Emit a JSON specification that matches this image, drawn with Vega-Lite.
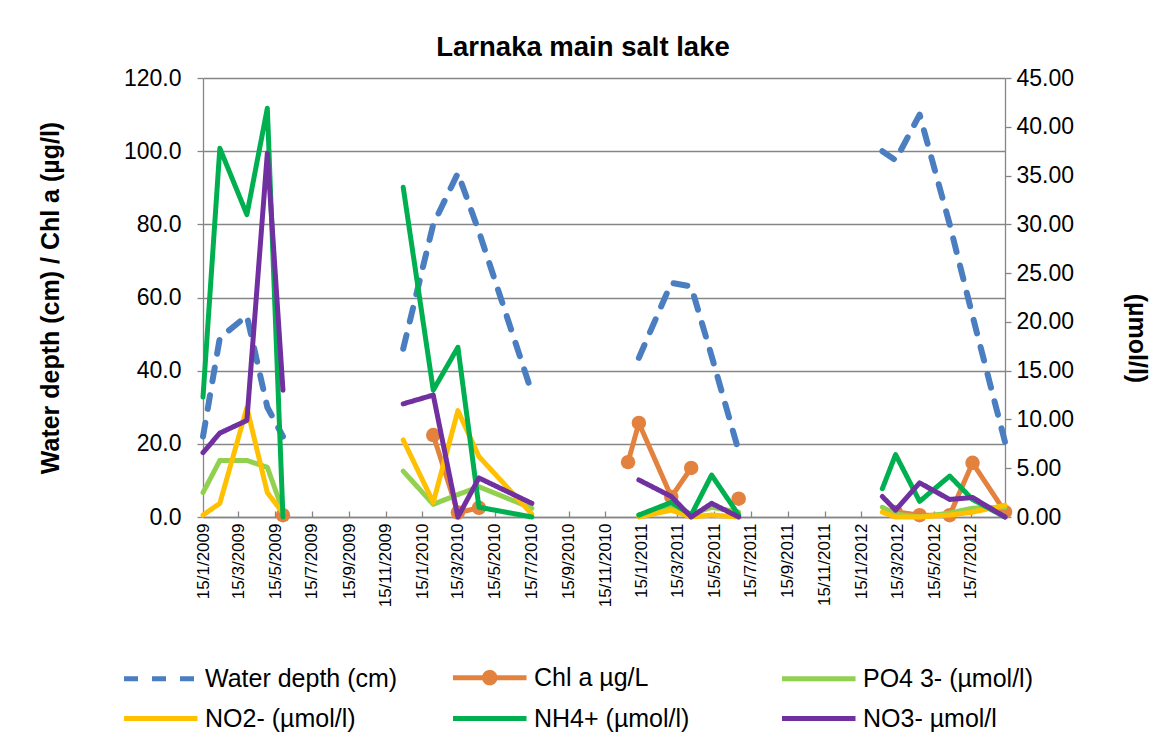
{
  "$schema": "https://vega.github.io/schema/vega-lite/v6.json",
  "width": 802,
  "height": 439,
  "autosize": {"type": "none"},
  "padding": {"left": 203, "top": 78, "right": 151, "bottom": 220},
  "background": "white",
  "config": {"view": {"stroke": null}, "font": "Liberation Sans"},
  "title": {"text": "Larnaka main salt lake", "fontSize": 27.5, "fontWeight": "bold", "font": "Liberation Sans", "color": "#000000", "anchor": "middle", "offset": 6, "dx": -21},
  "data": {"values": [
    {"date": "2009-01-15", "seg": "p1", "wd": 22, "chl": null, "po4": 2.5, "no2": 0.2, "nh4": 12.3, "no3": 6.6},
    {"date": "2009-02-12", "seg": "p1", "wd": 49, "chl": null, "po4": 5.8, "no2": 1.4, "nh4": 37.8, "no3": 8.6},
    {"date": "2009-03-29", "seg": "p1", "wd": 55, "chl": null, "po4": 5.8, "no2": 11.2, "nh4": 31.0, "no3": 9.9},
    {"date": "2009-05-02", "seg": "p1", "wd": 30, "chl": null, "po4": 5.1, "no2": 2.5, "nh4": 41.9, "no3": 37.3},
    {"date": "2009-05-28", "seg": "p1", "wd": 22, "chl": 0.5, "po4": 0.6, "no2": 0.4, "nh4": 0, "no3": 13.0},
    {"date": "2009-12-14", "seg": "p2", "wd": 46, "chl": null, "po4": 4.7, "no2": 7.9, "nh4": 33.8, "no3": 11.6},
    {"date": "2010-02-02", "seg": "p2", "wd": 80, "chl": 22.4, "po4": 1.3, "no2": 1.5, "nh4": 13.0, "no3": 12.5},
    {"date": "2010-03-15", "seg": "p2", "wd": 94, "chl": 1.2, "po4": 2.3, "no2": 10.9, "nh4": 17.4, "no3": 0},
    {"date": "2010-04-19", "seg": "p2", "wd": 78, "chl": 2.5, "po4": 3.1, "no2": 6.2, "nh4": 1.0, "no3": 4.0},
    {"date": "2010-07-16", "seg": "p2", "wd": 34, "chl": null, "po4": 0.9, "no2": 0.3, "nh4": 0, "no3": 1.4},
    {"date": "2010-12-23", "seg": "p3", "wd": null, "chl": 15.0, "po4": null, "no2": null, "nh4": null, "no3": null},
    {"date": "2011-01-10", "seg": "p3", "wd": 43.5, "chl": 25.7, "po4": 0.2, "no2": 0, "nh4": 0.2, "no3": 3.8},
    {"date": "2011-03-05", "seg": "p3", "wd": 64, "chl": 5.5, "po4": 1.0, "no2": 0.7, "nh4": 1.5, "no3": 2.1},
    {"date": "2011-04-07", "seg": "p3", "wd": 63, "chl": 13.4, "po4": 0.3, "no2": 0, "nh4": 0.2, "no3": 0},
    {"date": "2011-05-11", "seg": "p3", "wd": 44, "chl": null, "po4": 1.0, "no2": 0.2, "nh4": 4.3, "no3": 1.4},
    {"date": "2011-06-25", "seg": "p3", "wd": 18, "chl": 5.0, "po4": 0.5, "no2": 0, "nh4": 0.2, "no3": 0},
    {"date": "2012-02-19", "seg": "p4", "wd": 100, "chl": null, "po4": 1.0, "no2": 0.5, "nh4": 2.9, "no3": 2.1},
    {"date": "2012-03-12", "seg": "p4", "wd": 97.5, "chl": 1.4, "po4": 0.3, "no2": 0, "nh4": 6.4, "no3": 0.7},
    {"date": "2012-04-21", "seg": "p4", "wd": 110, "chl": 0.5, "po4": 0, "no2": 0, "nh4": 1.6, "no3": 3.5},
    {"date": "2012-06-10", "seg": "p4", "wd": 80, "chl": 0.5, "po4": 0.4, "no2": 0.2, "nh4": 4.2, "no3": 1.8},
    {"date": "2012-07-18", "seg": "p4", "wd": 55, "chl": 14.8, "po4": 0.9, "no2": 0.5, "nh4": 1.8, "no3": 2.0},
    {"date": "2012-09-10", "seg": "p4", "wd": 20.5, "chl": 1.4, "po4": 1.0, "no2": 1.2, "nh4": 0, "no3": 0}
  ]},
  "transform": [{"fold": ["wd", "chl", "po4", "no2", "nh4", "no3"], "as": ["key", "value"]}],
  "encoding": {
    "x": {
      "field": "date", "type": "temporal",
      "scale": {"type": "utc", "domain": [{"year": 2009, "month": 1, "date": 15, "utc": true}, {"year": 2012, "month": 9, "date": 10, "utc": true}]},
      "axis": {
        "title": null,
        "values": [
          {"year": 2009, "month": 1, "date": 15, "utc": true}, {"year": 2009, "month": 3, "date": 15, "utc": true}, {"year": 2009, "month": 5, "date": 15, "utc": true}, {"year": 2009, "month": 7, "date": 15, "utc": true}, {"year": 2009, "month": 9, "date": 15, "utc": true}, {"year": 2009, "month": 11, "date": 15, "utc": true},
          {"year": 2010, "month": 1, "date": 15, "utc": true}, {"year": 2010, "month": 3, "date": 15, "utc": true}, {"year": 2010, "month": 5, "date": 15, "utc": true}, {"year": 2010, "month": 7, "date": 15, "utc": true}, {"year": 2010, "month": 9, "date": 15, "utc": true}, {"year": 2010, "month": 11, "date": 15, "utc": true},
          {"year": 2011, "month": 1, "date": 15, "utc": true}, {"year": 2011, "month": 3, "date": 15, "utc": true}, {"year": 2011, "month": 5, "date": 15, "utc": true}, {"year": 2011, "month": 7, "date": 15, "utc": true}, {"year": 2011, "month": 9, "date": 15, "utc": true}, {"year": 2011, "month": 11, "date": 15, "utc": true},
          {"year": 2012, "month": 1, "date": 15, "utc": true}, {"year": 2012, "month": 3, "date": 15, "utc": true}, {"year": 2012, "month": 5, "date": 15, "utc": true}, {"year": 2012, "month": 7, "date": 15, "utc": true}
        ],
        "labelExpr": "utcFormat(datum.value, '%-d/%-m/%Y')",
        "labelAngle": -90, "labelFontSize": 17, "labelColor": "#000000",
        "labelOverlap": false, "labelFlush": false, "labelBound": false,
        "grid": false, "domainColor": "#868686", "domainWidth": 1.3,
        "tickColor": "#868686", "tickSize": -6, "tickWidth": 1.3, "labelPadding": 12
      }
    },
    "color": {
      "field": "key", "type": "nominal",
      "scale": {"domain": ["wd", "chl", "po4", "no2", "nh4", "no3"], "range": ["#4A7EC0", "#E2823E", "#92D050", "#FFC000", "#00B050", "#7030A0"]},
      "legend": {
        "title": null, "orient": "none", "legendX": -50, "legendY": 576, "direction": "horizontal",
        "columns": 3, "gridAlign": "all", "columnPadding": 45, "rowPadding": 2,
        "symbolType": "M-2.5,0H1", "symbolSize": 1764, "symbolStrokeWidth": 5,
        "labelFontSize": 25, "labelColor": "#000000", "labelOffset": 5, "labelLimit": 400,
        "labelExpr": "datum.label == 'wd' ? 'Water depth (cm)' : datum.label == 'chl' ? 'Chl a µg/L' : datum.label == 'po4' ? 'PO4 3-  (µmol/l)' : datum.label == 'no2' ? 'NO2-  (µmol/l)' : datum.label == 'nh4' ? 'NH4+  (µmol/l)' : 'NO3- µmol/l'",
        "encode": {"symbols": {"update": {"shape": {"signal": "datum.value === 'chl' ? 'M-2.5,0H1M-1,0a0.25,0.25 0 1,0 0.5,0a0.25,0.25 0 1,0 -0.5,0' : 'M-2.5,0H1'"}}}}
      }
    },
    "strokeDash": {
      "field": "key", "type": "nominal",
      "scale": {"domain": ["wd", "chl", "po4", "no2", "nh4", "no3"], "range": [[14, 14], [1, 0], [1, 0], [1, 0], [1, 0], [1, 0]]},
      "legend": {
        "title": null, "orient": "none", "legendX": -50, "legendY": 576, "direction": "horizontal",
        "columns": 3, "gridAlign": "all", "columnPadding": 45, "rowPadding": 2,
        "symbolType": "M-2.5,0H1", "symbolSize": 1764, "symbolStrokeWidth": 5,
        "labelFontSize": 25, "labelColor": "#000000", "labelOffset": 5, "labelLimit": 400,
        "labelExpr": "datum.label == 'wd' ? 'Water depth (cm)' : datum.label == 'chl' ? 'Chl a µg/L' : datum.label == 'po4' ? 'PO4 3-  (µmol/l)' : datum.label == 'no2' ? 'NO2-  (µmol/l)' : datum.label == 'nh4' ? 'NH4+  (µmol/l)' : 'NO3- µmol/l'",
        "encode": {"symbols": {"update": {"shape": {"signal": "datum.value === 'chl' ? 'M-2.5,0H1M-1,0a0.25,0.25 0 1,0 0.5,0a0.25,0.25 0 1,0 -0.5,0' : 'M-2.5,0H1'"}}}}
      }
    },
    "detail": {"field": "seg", "type": "nominal"}
  },
  "layer": [
    {
      "encoding": {
        "y": {
          "field": "value", "type": "quantitative",
          "scale": {"domain": [0, 120], "nice": false, "zero": true},
          "axis": {
            "orient": "left", "values": [0, 20, 40, 60, 80, 100, 120], "format": ".1f",
            "title": "Water depth (cm) / Chl a (µg/l)", "titleFontSize": 25, "titleFontWeight": "bold", "titleColor": "#000000", "titlePadding": 60,
            "labelFontSize": 23, "labelColor": "#000000", "labelPadding": 16,
            "grid": true, "gridColor": "#868686", "gridWidth": 1.3,
            "domainColor": "#868686", "domainWidth": 1.3, "tickColor": "#868686", "tickSize": 6, "tickWidth": 1.3
          }
        }
      },
      "layer": [
        {"transform": [{"filter": {"field": "key", "equal": "wd"}}], "mark": {"type": "line", "strokeWidth": 6, "strokeCap": "round", "strokeJoin": "round", "invalid": "break-paths-show-domains"}},
        {"transform": [{"filter": {"field": "key", "equal": "chl"}}], "mark": {"type": "line", "strokeWidth": 5, "strokeCap": "round", "strokeJoin": "round", "invalid": "break-paths-show-domains"}},
        {"transform": [{"filter": {"field": "key", "equal": "chl"}}, {"filter": "isValid(datum.value)"}], "mark": {"type": "circle", "size": 210, "opacity": 1}}
      ]
    },
    {
      "encoding": {
        "y": {
          "field": "value", "type": "quantitative",
          "scale": {"domain": [0, 45], "nice": false, "zero": true},
          "axis": {
            "orient": "right", "values": [0, 5, 10, 15, 20, 25, 30, 35, 40, 45], "format": ".2f",
            "title": "(µmol/l)", "titleFontSize": 25, "titleFontWeight": "bold", "titleColor": "#000000", "titlePadding": 50, "titleY": 260,
            "labelFontSize": 23, "labelColor": "#000000", "labelPadding": 5,
            "grid": false, "domainColor": "#868686", "domainWidth": 1.3, "tickColor": "#868686", "tickSize": 6, "tickWidth": 1.3
          }
        }
      },
      "layer": [
        {"transform": [{"filter": {"field": "key", "equal": "po4"}}], "mark": {"type": "line", "strokeWidth": 5, "strokeCap": "round", "strokeJoin": "round", "invalid": "break-paths-show-domains"}},
        {"transform": [{"filter": {"field": "key", "equal": "no2"}}], "mark": {"type": "line", "strokeWidth": 5, "strokeCap": "round", "strokeJoin": "round", "invalid": "break-paths-show-domains"}},
        {"transform": [{"filter": {"field": "key", "equal": "nh4"}}], "mark": {"type": "line", "strokeWidth": 5, "strokeCap": "round", "strokeJoin": "round", "invalid": "break-paths-show-domains"}},
        {"transform": [{"filter": {"field": "key", "equal": "no3"}}], "mark": {"type": "line", "strokeWidth": 5, "strokeCap": "round", "strokeJoin": "round", "invalid": "break-paths-show-domains"}}
      ]
    }
  ],
  "resolve": {"scale": {"y": "independent"}}
}
